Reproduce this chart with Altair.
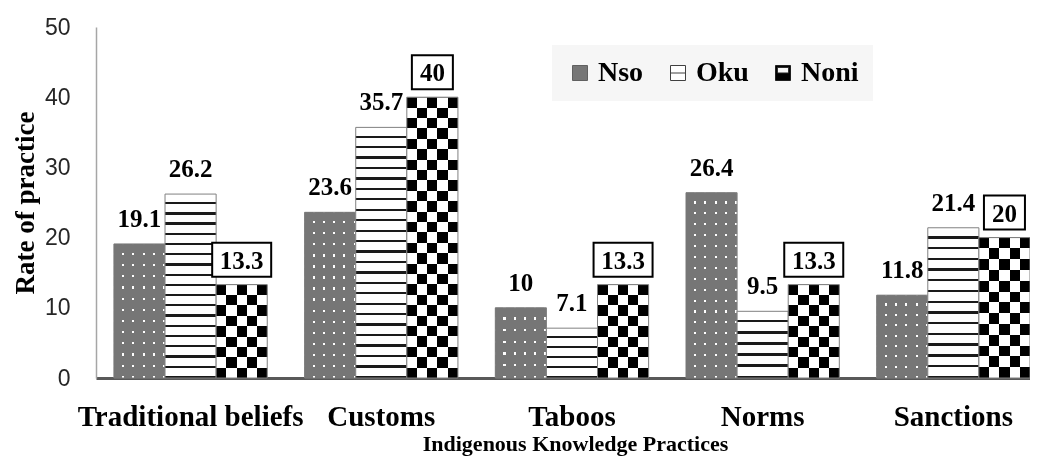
import altair as alt
import pandas as pd

categories = ["Traditional beliefs", "Customs", "Taboos", "Norms", "Sanctions"]
series = ["Nso", "Oku", "Noni"]
nso_values = [19.1, 23.6, 10, 26.4, 11.8]
oku_values = [26.2, 35.7, 7.1, 9.5, 21.4]
noni_values = [13.3, 40, 13.3, 13.3, 20]

rows = []
for s, vals in zip(series, [nso_values, oku_values, noni_values]):
    for c, v in zip(categories, vals):
        rows.append({"cat": c, "series": s, "value": v, "label": f"{v:g}"})
df = pd.DataFrame(rows)

PLOT_W, PLOT_H = 934, 351
PX = PLOT_H / 50.0
SERIF = "Liberation Serif"
NSO_GREY = "#767676"


def hgrad(stops):
    return {"gradient": "linear", "x1": 0, "y1": 0, "x2": 0, "y2": 1, "stops": stops}


def vgrad(stops):
    return {"gradient": "linear", "x1": 0, "y1": 0, "x2": 1, "y2": 0, "stops": stops}


def line_stops(n, base, line, frac):
    st = []
    for i in range(n):
        a = round(i / n, 5)
        m = round((i + 1 - frac) / n, 5)
        b = round((i + 1) / n, 5)
        st += [{"offset": a, "color": base}, {"offset": m, "color": base},
               {"offset": m, "color": line}, {"offset": b, "color": line}]
    return st


def cell_stops(n, c1, c2):
    st = []
    for i in range(n):
        col = c1 if i % 2 == 0 else c2
        st += [{"offset": round(i / n, 5), "color": col},
               {"offset": round((i + 1) / n, 5), "color": col}]
    return st


def cond_fill(grads):
    conds = [{"test": f"datum.cat === '{c}'", "value": grads[c]} for c in categories[1:]]
    return alt.FillValue(grads[categories[0]], condition=conds)


nso_grads = {c: hgrad(line_stops(max(1, round(v * PX / 11)), NSO_GREY, "white", 0.2))
             for c, v in zip(categories, nso_values)}
oku_grads = {c: hgrad(line_stops(max(1, round(v * PX / 10.5)), "white", "#1a1a1a", 0.22))
             for c, v in zip(categories, oku_values)}
noni_grads = {c: hgrad(cell_stops(max(1, round(v * PX / 10.5)), "black", "white"))
              for c, v in zip(categories, noni_values)}
nso_top = vgrad(line_stops(5, NSO_GREY, "white", 0.2))
noni_top = vgrad(cell_stops(5, "black", "white"))

X = alt.X(
    "cat:N", sort=categories,
    scale=alt.Scale(paddingInner=0.196, paddingOuter=0.047, align=1),
    axis=alt.Axis(
        title="Indigenous Knowledge Practices", labelAngle=0, labelFont=SERIF,
        labelFontSize=29, labelFontWeight="bold", labelColor="black",
        labelPadding=47, labelBaseline="alphabetic", labelLimit=500,
        labelOverlap=False, ticks=False, tickSize=0, domainColor="#595959",
        domainWidth=3, titleFont=SERIF, titleFontSize=22, titleFontWeight="bold",
        titleColor="black", titleX=479, titleY=72, titleBaseline="alphabetic",
        titleAlign="center"),
)
XO = alt.XOffset("series:N", sort=series,
                 scale=alt.Scale(domain=series, paddingInner=0, paddingOuter=0))
Y = alt.Y(
    "value:Q", scale=alt.Scale(domain=[0, 50], nice=False),
    axis=alt.Axis(
        values=[0, 10, 20, 30, 40, 50], grid=False, ticks=False, tickSize=0,
        domainColor="#a6a6a6", domainWidth=1.5, labelFont="Liberation Sans",
        labelFontSize=23, labelColor="#262626", labelPadding=26,
        title="Rate of practice", titleFont=SERIF, titleFontWeight="bold",
        titleFontSize=27, titleColor="black", titleX=-71, titleY=PLOT_H / 2,
        titleAngle=270, titleBaseline="middle", titleAlign="center"),
)

base = alt.Chart(df).encode(x=X, xOffset=XO, y=Y)

nso_bars = base.transform_filter("datum.series === 'Nso'").mark_bar(
    stroke="#808080", strokeWidth=1).encode(fill=cond_fill(nso_grads))
nso_dots = base.transform_filter("datum.series === 'Nso'").mark_bar(
    fill=nso_top, strokeOpacity=0, blend="darken")
oku_bars = base.transform_filter("datum.series === 'Oku'").mark_bar(
    stroke="#808080", strokeWidth=1).encode(fill=cond_fill(oku_grads))
noni_bars = base.transform_filter("datum.series === 'Noni'").mark_bar(
    stroke="#808080", strokeWidth=1).encode(fill=cond_fill(noni_grads))
noni_cols = base.transform_filter("datum.series === 'Noni'").mark_bar(
    fill=noni_top, strokeOpacity=0, blend="difference")

labels = base.transform_filter("datum.series !== 'Noni'").mark_text(
    font=SERIF, fontWeight="bold", fontSize=25, color="black",
    baseline="alphabetic", dy=-17).encode(text="label:N")

BOX_WIDE = "M-2.95,-1.7H2.95V1.7H-2.95Z"
BOX_NARROW = "M-2.05,-1.7H2.05V1.7H-2.05Z"
boxes = base.transform_filter("datum.series === 'Noni'").mark_point(
    filled=True, fill="white", stroke="black", strokeWidth=2, opacity=1,
    size=400, yOffset=-25).encode(
    shape=alt.condition("length(datum.label) > 2", alt.value(BOX_WIDE), alt.value(BOX_NARROW)))
box_labels = base.transform_filter("datum.series === 'Noni'").mark_text(
    font=SERIF, fontWeight="bold", fontSize=25, color="black",
    baseline="middle", dy=-24).encode(text="label:N")

legend_def = alt.Legend(
    orient="none", legendX=456, legendY=18, direction="horizontal", title=None,
    fillColor="#f6f6f6", padding=14, labelFont=SERIF, labelFontWeight="bold",
    labelFontSize=28, labelColor="black", labelOffset=4, columnPadding=20,
    symbolSize=225, symbolStrokeColor="#404040", symbolStrokeWidth=1,
    symbolOpacity=1)
shapes = ["M-1,-1H1V1H-1Z", "M-1,-1H1V1H-1Z M-1,0H1",
          "M-1,-1H1V1H-1Z M-0.75,-0.75V0H0.75V-0.75Z"]
legend_layer = base.mark_point(opacity=0, filled=True).encode(
    fill=alt.Fill("series:N", sort=series,
                  scale=alt.Scale(domain=series, range=[NSO_GREY, "white", "black"]),
                  legend=legend_def),
    shape=alt.Shape("series:N", sort=series,
                    scale=alt.Scale(domain=series, range=shapes),
                    legend=legend_def),
    stroke=alt.Stroke("series:N", sort=series,
                      scale=alt.Scale(domain=series, range=["#606060", "#404040", "#202020"]),
                      legend=legend_def),
)

chart = alt.layer(
    nso_bars, nso_dots, oku_bars, noni_bars, noni_cols,
    labels, boxes, box_labels, legend_layer,
).properties(
    width=PLOT_W, height=PLOT_H,
    autosize=alt.AutoSizeParams(type="none"),
    padding={"left": 88, "top": 19, "right": 0, "bottom": 78},
    background="white",
).configure_view(stroke=None)

chart.save("out.html", embed_options={"renderer": "svg", "actions": False})
